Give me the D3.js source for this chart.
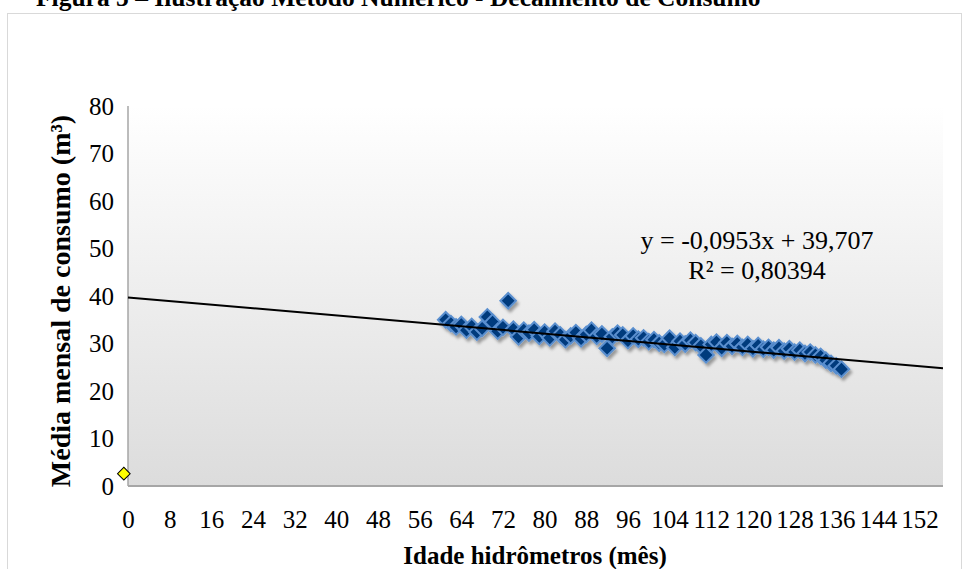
<!DOCTYPE html>
<html><head><meta charset="utf-8">
<script src="https://cdn.jsdelivr.net/npm/d3@7"></script>
<style>body{margin:0;background:#fff;} svg{display:block;}</style>
</head><body>
<svg id="c" width="969" height="569"></svg>
<script>
const title = "Figura 5  – Ilustração Método Numérico - Decaimento de Consumo";
const xTitle = "Idade hidrômetros (mês)";
const yTitle = "Média mensal de consumo (m³)";
const eqLine1 = "y = -0,0953x + 39,707";
const eqLine2 = "R² = 0,80394";
const xTicks = [0,8,16,24,32,40,48,56,64,72,80,88,96,104,112,120,128,136,144,152];
const yTicks = [0,10,20,30,40,50,60,70,80];
const ages = [61,62,63,64,65,66,67,68,69,70,71,72,73,74,75,76,77,78,79,80,81,82,83,84,85,86,87,88,89,90,91,92,93,94,95,96,97,98,99,100,101,102,103,104,105,106,107,108,109,110,111,112,113,114,115,116,117,118,119,120,121,122,123,124,125,126,127,128,129,130,131,132,133,134,135,136,137];
const consumo = [35.0,34.2,33.5,34.0,32.8,33.6,32.4,33.2,35.6,34.5,32.6,33.4,39.0,33.0,31.4,32.8,32.2,32.9,31.5,32.4,31.2,32.6,31.8,30.8,31.6,32.3,31.0,31.9,32.8,31.5,32.0,29.0,31.4,32.2,31.8,30.6,31.6,30.9,31.2,30.4,30.8,30.1,29.8,31.1,29.2,30.5,29.9,30.7,30.2,29.5,27.6,29.8,30.3,29.0,30.2,29.4,30.0,29.2,29.8,28.9,29.6,28.8,29.2,28.6,29.1,28.4,28.9,28.2,28.6,27.9,28.2,27.6,27.3,26.5,25.8,25.3,24.6];
const extraX = [-0.8];
const extraY = [2.6];
const slope = -0.0953, intercept = 39.707;

const SERIF = '"Liberation Serif", "Times New Roman", Times, serif';
const svg = d3.select("#c");
const L = 128, R = 943, T = 106, B = 486;
const x = d3.scaleLinear().domain([0,156.5]).range([L,R]);
const y = d3.scaleLinear().domain([0,80]).range([B,T]);

const defs = svg.append("defs");
const g = defs.append("linearGradient").attr("id","bg").attr("x1",0).attr("y1",0).attr("x2",0).attr("y2",1);
g.append("stop").attr("offset","0%").attr("stop-color","#ffffff");
g.append("stop").attr("offset","100%").attr("stop-color","#dcdcdc");
const f = defs.append("filter").attr("id","sh").attr("x","-50%").attr("y","-50%").attr("width","200%").attr("height","200%");
f.append("feDropShadow").attr("dx",2).attr("dy",3).attr("stdDeviation",1.5).attr("flood-color","#000").attr("flood-opacity",0.35);

svg.append("rect").attr("x",7.5).attr("y",13.5).attr("width",954).attr("height",570)
  .attr("fill","#fff").attr("stroke","#d9d9d9").attr("stroke-width",1);

function txt(sel, size, bold){
  return sel.style("font-family",SERIF).style("font-size",size+"px").style("font-weight",bold?"bold":"normal").attr("fill","#000");
}

txt(svg.append("text").attr("x",36).attr("y",6), 25.5, true).text(title);

svg.append("rect").attr("x",L).attr("y",T).attr("width",R-L).attr("height",B-T).attr("fill","url(#bg)");
svg.append("line").attr("x1",L).attr("x2",L).attr("y1",T).attr("y2",B).attr("stroke","#a6a6a6").attr("stroke-width",1.5);
svg.append("line").attr("x1",L).attr("x2",R).attr("y1",B).attr("y2",B).attr("stroke","#a6a6a6").attr("stroke-width",2);

const yAxis = d3.axisLeft(y).tickValues(yTicks).tickSize(0).tickPadding(14);
const ya = svg.append("g").attr("transform",`translate(${L},0)`).call(yAxis);
ya.select(".domain").remove();
txt(ya.selectAll("text"), 25, false);

const xAxis = d3.axisBottom(x).tickValues(xTicks).tickSize(0).tickPadding(24);
const xa = svg.append("g").attr("transform",`translate(0,${B})`).call(xAxis);
xa.select(".domain").remove();
txt(xa.selectAll("text"), 25, false);

const pts = ages.map((a,i)=>({x:a,y:consumo[i]}));
const sym = d3.symbol().type(d3.symbolSquare).size(120);
svg.append("g").attr("filter","url(#sh)").selectAll("path").data(pts).join("path")
  .attr("d",sym)
  .attr("transform",d=>`translate(${x(d.x)},${y(d.y)}) rotate(45)`)
  .attr("fill","#003a7d").attr("stroke","#5a8fcf").attr("stroke-width",2);

svg.append("line").attr("x1",x(0)).attr("y1",y(intercept)).attr("x2",x(156.5)).attr("y2",y(intercept+slope*156.5))
  .attr("stroke","#000").attr("stroke-width",2);

const ex = extraX.map((v,i)=>({x:v,y:extraY[i]}));
svg.append("g").selectAll("path").data(ex).join("path")
  .attr("d",d3.symbol().type(d3.symbolSquare).size(80))
  .attr("transform",d=>`translate(${x(d.x)},${y(d.y)}) rotate(45)`)
  .attr("fill","#ffff00").attr("stroke","#000").attr("stroke-width",1);

txt(svg.append("text").attr("x",757).attr("y",249).attr("text-anchor","middle"), 26, false).text(eqLine1);
txt(svg.append("text").attr("x",757).attr("y",279).attr("text-anchor","middle"), 26, false).text(eqLine2);

txt(svg.append("text").attr("x",535).attr("y",564).attr("text-anchor","middle"), 25, true).text(xTitle);
txt(svg.append("text").attr("transform","translate(70,301) rotate(-90)").attr("text-anchor","middle"), 28, true).text(yTitle);
</script>
</body></html>
